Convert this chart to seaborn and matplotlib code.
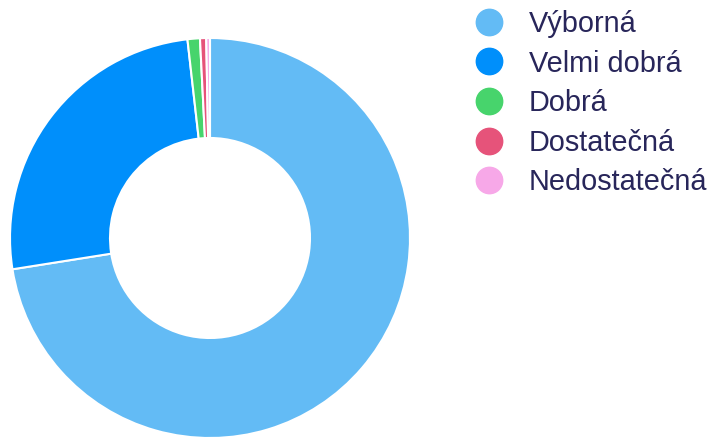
import matplotlib
matplotlib.use("Agg")
import matplotlib.pyplot as plt
from matplotlib.lines import Line2D
import seaborn as sns

# grade distribution (share in %)
labels = ['Výborná', 'Velmi dobrá', 'Dobrá', 'Dostatečná', 'Nedostatečná']
values = [72.5, 25.7, 1.0, 0.5, 0.3]
colors = ['#63BBF5', '#008FFB', '#47D46C', '#E6537A', '#F7A8E8']
text_color = '#28265A'

sns.set_style("white")
plt.rcParams['font.family'] = ['Liberation Sans', 'DejaVu Sans']

fig = plt.figure(figsize=(7.12, 4.4), dpi=100)
ax = fig.add_axes([10 / 712, 2 / 440, 400 / 712, 400 / 440])

ax.pie(values, colors=sns.color_palette(colors), startangle=90, counterclock=False,
       radius=1.0, wedgeprops=dict(width=0.5, edgecolor='white', linewidth=1.5))
ax.set_xlim(-1, 1)
ax.set_ylim(-1, 1)
ax.set_aspect('equal')
ax.axis('off')

handles = [Line2D([], [], marker='o', linestyle='', markersize=19,
                  markerfacecolor=c, markeredgecolor=c) for c in colors]
leg = fig.legend(handles, labels, loc='upper left', bbox_to_anchor=(466 / 712, 1 - 10 / 440),
                 frameon=False, fontsize=20.8, labelspacing=0.4, handletextpad=0.58,
                 handlelength=1.6, borderpad=0, borderaxespad=0)
for t in leg.get_texts():
    t.set_color(text_color)

fig.savefig('out.png', dpi=100)
